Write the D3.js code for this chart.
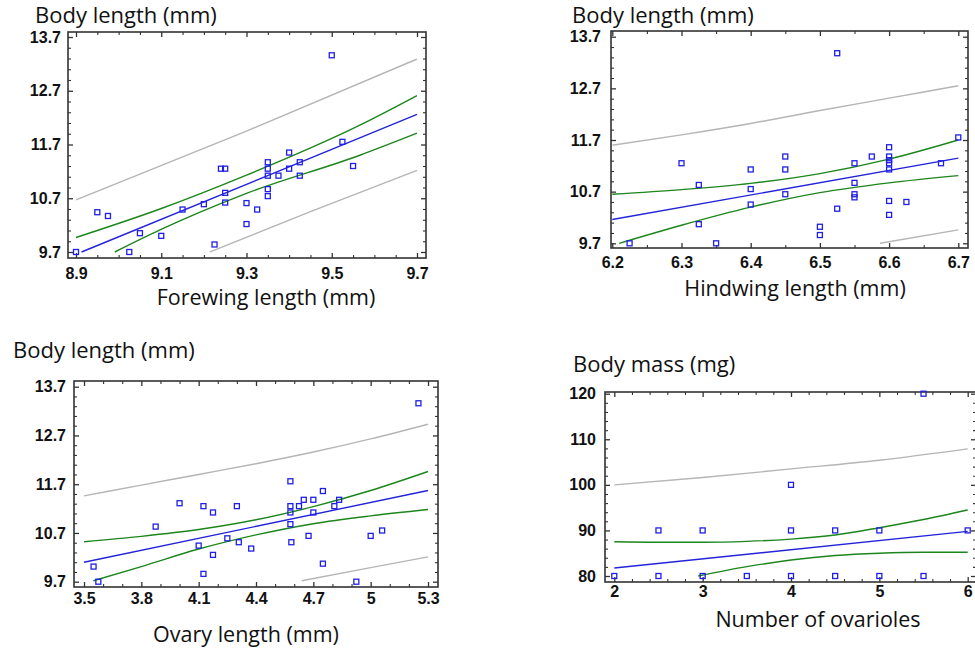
<!DOCTYPE html>
<html>
<head>
<meta charset="utf-8">
<script src="https://cdn.jsdelivr.net/npm/d3@7"></script>
<style>
    body { margin: 0; background: #fff; }
    svg { display: block; }
</style>
</head>
<body>
<svg id="chart"></svg>
<script>
// Forewing panel
const foreX = [8.9, 8.95, 8.975, 9.025, 9.05, 9.1, 9.15, 9.2, 9.225, 9.24, 9.25, 9.25, 9.25, 9.3, 9.3,
    9.325, 9.35, 9.35, 9.35, 9.35, 9.35, 9.375, 9.4, 9.4, 9.425, 9.425, 9.5, 9.525, 9.55];
const foreBody = [9.7, 10.44, 10.37, 9.7, 10.05, 10.0, 10.49, 10.59, 9.84, 11.25, 11.25, 10.8, 10.62, 10.61, 10.22,
    10.49, 11.37, 11.25, 11.12, 10.87, 10.74, 11.12, 11.55, 11.25, 11.37, 11.12, 13.36, 11.75, 11.3];
const foreFit = [[8.913, 9.7], [9.7, 12.26]];
const foreCiHi = [[8.9, 9.97], [9.097, 10.5], [9.3, 11.13], [9.566, 12.06], [9.7, 12.61]];
const foreCiLo = [[8.991, 9.7], [9.097, 10.11], [9.3, 10.79], [9.566, 11.5], [9.7, 11.91]];
const forePiHi = [[8.9, 10.67], [9.3, 11.95], [9.7, 13.29]];
const forePiLo = [[9.214, 9.7], [9.45, 10.45], [9.7, 11.22]];

// Hindwing panel
const hindX = [6.225, 6.3, 6.325, 6.325, 6.35, 6.4, 6.4, 6.4, 6.45, 6.45, 6.45, 6.5, 6.5, 6.525, 6.525,
    6.55, 6.55, 6.55, 6.55, 6.575, 6.6, 6.6, 6.6, 6.6, 6.6, 6.6, 6.6, 6.625, 6.675, 6.7];
const hindBody = [9.7, 11.25, 10.83, 10.07, 9.7, 11.13, 10.75, 10.45, 11.38, 11.13, 10.65, 10.02, 9.86, 13.38, 10.37,
    11.25, 10.87, 10.65, 10.59, 11.38, 11.56, 11.38, 11.31, 11.25, 11.13, 10.52, 10.25, 10.5, 11.25, 11.75];
const hindFit = [[6.2, 10.16], [6.7, 11.35]];
const hindCiHi = [[6.2, 10.65], [6.3, 10.74], [6.4, 10.86], [6.5, 11.05], [6.6, 11.33], [6.7, 11.7]];
const hindCiLo = [[6.21, 9.7], [6.3, 10.05], [6.4, 10.4], [6.5, 10.68], [6.6, 10.87], [6.7, 11.01]];
const hindPiHi = [[6.2, 11.6], [6.3, 11.8], [6.4, 12.02], [6.5, 12.27], [6.6, 12.51], [6.7, 12.75]];
const hindPiLo = [[6.587, 9.7], [6.7, 9.96]];

// Ovary panel
const ovaryX = [3.55, 3.575, 3.875, 4.0, 4.1, 4.125, 4.125, 4.175, 4.175, 4.25, 4.3, 4.31, 4.375, 4.58, 4.58, 4.58,
    4.58, 4.585, 4.625, 4.65, 4.675, 4.7, 4.7, 4.75, 4.75, 4.81, 4.835, 4.925, 5.0, 5.06, 5.25];
const ovaryBody = [10.01, 9.7, 10.83, 11.31, 10.44, 11.25, 9.86, 11.12, 10.25, 10.59, 11.25, 10.51, 10.38, 11.76, 11.25, 11.12,
    10.88, 10.51, 11.25, 11.38, 10.64, 11.38, 11.12, 11.56, 10.07, 11.25, 11.38, 9.7, 10.64, 10.75, 13.36];
const ovaryFit = [[3.5, 10.1], [5.3, 11.57]];
const ovaryCiHi = [[3.5, 10.52], [3.8, 10.63], [4.1, 10.77], [4.4, 10.97], [4.7, 11.24], [5.0, 11.57], [5.3, 11.96]];
const ovaryCiLo = [[3.549, 9.72], [3.8, 10.01], [4.1, 10.37], [4.4, 10.66], [4.7, 10.89], [5.0, 11.05], [5.3, 11.18]];
const ovaryPiHi = [[3.5, 11.46], [3.8, 11.68], [4.1, 11.9], [4.4, 12.12], [4.7, 12.36], [5.0, 12.63], [5.3, 12.93]];
const ovaryPiLo = [[4.639, 9.72], [5.0, 9.99], [5.3, 10.21]];

// Ovarioles panel
const ovarioles = [2, 2.5, 2.5, 3, 3, 3.5, 4, 4, 4, 4.5, 4.5, 5, 5, 5.5, 5.5, 6];
const bodyMass = [80, 80, 90, 90, 80, 80, 100, 90, 80, 90, 80, 90, 80, 120, 80, 90];
const massFit = [[2, 81.75], [6, 89.8]];
const massCiHi = [[2, 87.5], [2.5, 87.4], [3, 87.4], [3.5, 87.6], [4, 88.1], [4.5, 89.0], [5, 90.6], [5.5, 92.4], [6, 94.5]];
const massCiLo = [[2.95, 80], [3.5, 82.05], [4, 83.5], [4.5, 84.5], [5, 85], [5.5, 85.2], [6, 85.2]];
const massPiHi = [[2, 100], [3, 101.6], [4, 103.5], [5, 105.4], [6, 107.9]];

// tick labels
const bodyTicks = [9.7, 10.7, 11.7, 12.7, 13.7];
const foreTicks = [8.9, 9.1, 9.3, 9.5, 9.7];
const hindTicks = [6.2, 6.3, 6.4, 6.5, 6.6, 6.7];
const ovaryTicks = [3.5, 3.8, 4.1, 4.4, 4.7, 5, 5.3];
const ovarioleTicks = [2, 3, 4, 5, 6];
const massTicks = [80, 90, 100, 110, 120];

const colors = {fit: '#2323d9', ci: '#1c861c', pi: '#b5b5b5', point: '#1f1fe6'};

const svg = d3.select('#chart')
    .attr('width', 975)
    .attr('height', 650);

function minorTicks(ticks, sub) {
    let out = [];
    for (let i = 0; i < ticks.length - 1; i++) {
        const step = (ticks[i + 1] - ticks[i]) / sub;
        for (let j = 1; j < sub; j++) out.push(ticks[i] + step * j);
    }
    return out;
}

function drawPanel(p) {
    const f = p.frame;
    const g = svg.append('g').attr('id', p.id);

    const x = d3.scaleLinear().domain([p.xTicks[0], p.xTicks[p.xTicks.length - 1]]).range(p.xRange);
    const y = d3.scaleLinear().domain([p.yTicks[0], p.yTicks[p.yTicks.length - 1]]).range(p.yRange);

    g.append('clipPath')
        .attr('id', p.id + '-clip')
        .append('rect')
        .attr('x', f.l).attr('y', f.t)
        .attr('width', f.r - f.l).attr('height', f.b - f.t);

    // axes: ticks point inward on all four sides
    const axes = [
        {axis: d3.axisBottom(x), t: `translate(0,${f.b})`, ticks: p.xTicks, sub: p.xSub, labels: true},
        {axis: d3.axisTop(x), t: `translate(0,${f.t})`, ticks: p.xTicks, sub: p.xSub, labels: false},
        {axis: d3.axisLeft(y), t: `translate(${f.l},0)`, ticks: p.yTicks, sub: p.ySub, labels: true},
        {axis: d3.axisRight(y), t: `translate(${f.r},0)`, ticks: p.yTicks, sub: p.ySub, labels: false}
    ];
    axes.forEach((a, i) => {
        const major = g.append('g')
            .attr('transform', a.t)
            .call(a.axis.tickValues(a.ticks).tickSize(-5)
                .tickPadding(i === 2 ? p.yPad : 0)
                .tickFormat(d3.format('')));
        major.select('.domain').remove();
        major.selectAll('line').attr('stroke', '#333').attr('stroke-width', 1.3);
        if (!a.labels) {
            major.selectAll('text').remove();
        }
        major.selectAll('text')
            .attr('font-family', '"Liberation Sans", Arial, sans-serif')
            .attr('font-weight', 'bold')
            .attr('font-size', 16)
            .attr('fill', '#111');
        if (i === 0) {
            major.selectAll('text').attr('y', p.xPad).attr('dy', null);
        }

        const minor = g.append('g')
            .attr('transform', a.t)
            .call(a.axis.tickValues(minorTicks(a.ticks, a.sub)).tickSize(-3));
        minor.select('.domain').remove();
        minor.selectAll('text').remove();
        minor.selectAll('line').attr('stroke', '#333').attr('stroke-width', 1.1);
    });

    g.append('rect')
        .attr('x', f.l).attr('y', f.t)
        .attr('width', f.r - f.l).attr('height', f.b - f.t)
        .attr('fill', 'none')
        .attr('stroke', '#333')
        .attr('stroke-width', 1.6);

    const line = d3.line()
        .x(d => x(d[0]))
        .y(d => y(d[1]))
        .curve(d3.curveMonotoneX);

    const curves = g.append('g').attr('clip-path', `url(#${p.id}-clip)`);
    p.lines.forEach((l) => {
        curves.append('path')
            .attr('d', line(l.data))
            .attr('fill', 'none')
            .attr('stroke', colors[l.kind])
            .attr('stroke-width', 1.4);
    });

    const s = 5;
    g.append('g').selectAll('rect')
        .data(p.xs.map((v, i) => [v, p.ys[i]]))
        .enter().append('rect')
        .attr('x', d => x(d[0]) - s / 2)
        .attr('y', d => y(d[1]) - s / 2)
        .attr('width', s)
        .attr('height', s)
        .attr('fill', 'none')
        .attr('stroke', colors.point)
        .attr('stroke-width', 1.3);

    g.append('text')
        .text(p.title)
        .attr('x', p.titlePos[0])
        .attr('y', p.titlePos[1])
        .attr('font-family', '"Open Sans", sans-serif')
        .attr('font-size', 22)
        .attr('fill', '#111');

    g.append('text')
        .text(p.xLabel)
        .attr('x', p.xLabelPos[0])
        .attr('y', p.xLabelPos[1])
        .attr('text-anchor', 'middle')
        .attr('font-family', '"Open Sans", sans-serif')
        .attr('font-size', 21.5)
        .attr('fill', '#111');
}

drawPanel({
    id: 'fore', title: 'Body length (mm)', xLabel: 'Forewing length (mm)',
    frame: {l: 68, r: 426, t: 32, b: 258}, xRange: [76, 417], yRange: [252, 37],
    titlePos: [35, 23], xLabelPos: [266, 305], xPad: 21, yPad: 7,
    xTicks: foreTicks, yTicks: bodyTicks, xSub: 4, ySub: 5,
    xs: foreX, ys: foreBody,
    lines: [{kind: 'pi', data: forePiHi}, {kind: 'pi', data: forePiLo},
        {kind: 'ci', data: foreCiHi}, {kind: 'ci', data: foreCiLo}, {kind: 'fit', data: foreFit}]
});

drawPanel({
    id: 'hind', title: 'Body length (mm)', xLabel: 'Hindwing length (mm)',
    frame: {l: 611, r: 968, t: 31, b: 248}, xRange: [612.3, 958.3], yRange: [243.3, 36.7],
    titlePos: [572, 23], xLabelPos: [795, 296], xPad: 20, yPad: 10,
    xTicks: hindTicks, yTicks: bodyTicks, xSub: 2, ySub: 5,
    xs: hindX, ys: hindBody,
    lines: [{kind: 'pi', data: hindPiHi}, {kind: 'pi', data: hindPiLo},
        {kind: 'ci', data: hindCiHi}, {kind: 'ci', data: hindCiLo}, {kind: 'fit', data: hindFit}]
});

drawPanel({
    id: 'ovary', title: 'Body length (mm)', xLabel: 'Ovary length (mm)',
    frame: {l: 74, r: 438, t: 381, b: 587}, xRange: [84, 428], yRange: [581.7, 386.7],
    titlePos: [13, 358], xLabelPos: [246, 642], xPad: 17, yPad: 8,
    xTicks: ovaryTicks, yTicks: bodyTicks, xSub: 3, ySub: 5,
    xs: ovaryX, ys: ovaryBody,
    lines: [{kind: 'pi', data: ovaryPiHi}, {kind: 'pi', data: ovaryPiLo},
        {kind: 'ci', data: ovaryCiHi}, {kind: 'ci', data: ovaryCiLo}, {kind: 'fit', data: ovaryFit}]
});

drawPanel({
    id: 'mass', title: 'Body mass (mg)', xLabel: 'Number of ovarioles',
    frame: {l: 605, r: 976, t: 392, b: 582}, xRange: [614.3, 967.7], yRange: [576, 393.7],
    titlePos: [573, 372], xLabelPos: [818, 627], xPad: 15, yPad: 9,
    xTicks: ovarioleTicks, yTicks: massTicks, xSub: 5, ySub: 5,
    xs: ovarioles, ys: bodyMass,
    lines: [{kind: 'pi', data: massPiHi},
        {kind: 'ci', data: massCiHi}, {kind: 'ci', data: massCiLo}, {kind: 'fit', data: massFit}]
});
</script>
</body>
</html>
